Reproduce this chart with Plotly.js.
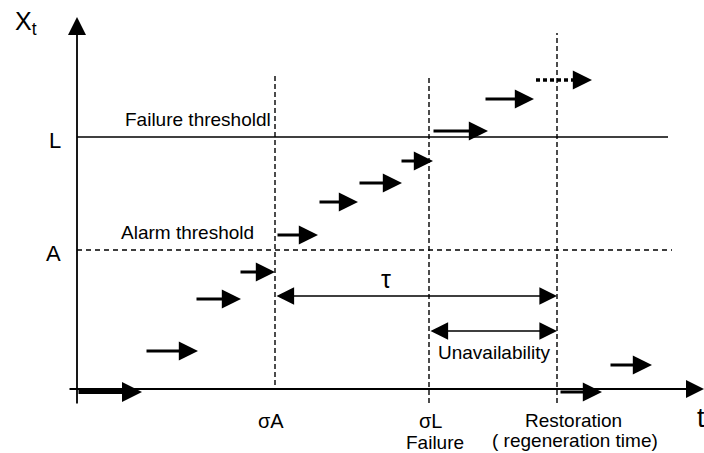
<!DOCTYPE html>
<html><head><meta charset="utf-8">
<script src="https://cdn.plot.ly/plotly-3.0.1.min.js"></script>
<style>html,body{margin:0;padding:0;background:#fff}</style>
</head><body><div id="chart" style="width:704px;height:453px"></div>
<script>
// ---- data (origin at the axes intersection) ----
const eventNames = ['σA', 'σL', 'Restoration'];
const eventTimes = [198, 352, 480];
const eventTop = [314, 312, 356];
const eventBottom = [4, -14, -14];
const thresholdNames = ['L', 'A'];
const thresholdLevels = [252, 139];
const thresholdEnds = [591, 595];
// degradation increments before restoration
const stepStart = [0, 68, 118, 162, 199, 241, 281, 323, 355, 407];
const stepEnd   = [65, 121, 164, 198, 241, 281, 325, 356, 411, 457];
const stepLevel = [-3, 38, 90, 117, 154, 187, 206, 228, 258, 290];
// hypothetical increment (dashed)
const dashStart = [459];
const dashEnd = [515];
const dashLevel = [309];
// increments after restoration
const afterStart = [482, 532];
const afterEnd = [525, 575];
const afterLevel = [-3, 24];
// durations
const tauLevel = 93;
const unavailLevel = 58;
const axisXEnd = 627, axisYEnd = 372, axisXStart = -9, axisYStart = -16;

const FONT = 'Liberation Sans, Arial, sans-serif';
const traces = [];
const annotations = [];

// threshold lines
traces.push({x: [0, thresholdEnds[0]], y: [thresholdLevels[0], thresholdLevels[0]], mode: 'lines',
  line: {color: '#000', width: 1.5}, hoverinfo: 'skip'});
traces.push({x: [0, thresholdEnds[1]], y: [thresholdLevels[1], thresholdLevels[1]], mode: 'lines',
  line: {color: '#000', width: 1.3, dash: '5px,4px'}, hoverinfo: 'skip'});
// vertical event lines
for (let i = 0; i < eventTimes.length; i++) {
  traces.push({x: [eventTimes[i], eventTimes[i]], y: [eventBottom[i], eventTop[i]], mode: 'lines',
    line: {color: '#000', width: 1.4, dash: '5px,3px'}, hoverinfo: 'skip'});
}
// dashed shaft
for (let i = 0; i < dashStart.length; i++) {
  traces.push({x: [dashStart[i], dashEnd[i] - 16], y: [dashLevel[i], dashLevel[i]], mode: 'lines',
    line: {color: '#000', width: 3.5, dash: '4px,3px'}, hoverinfo: 'skip'});
}

function arrow(x0, y0, x1, y1, w, size, both) {
  annotations.push({x: x1, y: y1, ax: x0, ay: y0, xref: 'x', yref: 'y', axref: 'x', ayref: 'y',
    text: '', showarrow: true, arrowhead: 2, arrowsize: size, arrowwidth: w, arrowcolor: '#000',
    arrowside: both ? 'end+start' : 'end', startarrowhead: 2, startarrowsize: size, standoff: 0, startstandoff: 0});
}
// axes
arrow(0, axisYStart, 0, axisYEnd, 1.8, 2.0);
arrow(axisXStart, 0, axisXEnd, 0, 1.8, 2.0);
// steps
for (let i = 0; i < stepStart.length; i++) {
  arrow(stepStart[i], stepLevel[i], stepEnd[i], stepLevel[i], i === 0 ? 4 : 3.2, i === 0 ? 1.0 : 1.2);
}
for (let i = 0; i < dashStart.length; i++) {
  arrow(dashEnd[i] - 18, dashLevel[i], dashEnd[i], dashLevel[i], 3.2, 1.2);
}
for (let i = 0; i < afterStart.length; i++) {
  arrow(afterStart[i], afterLevel[i], afterEnd[i], afterLevel[i], 3.2, 1.2);
}
// durations
arrow(eventTimes[0], tauLevel, eventTimes[2], tauLevel, 1.6, 2.2, true);
arrow(eventTimes[1], unavailLevel, eventTimes[2], unavailLevel, 1.6, 2.2, true);

function label(text, x, y, size, xanchor) {
  annotations.push({x: x, y: y, xref: 'x', yref: 'y', text: text, showarrow: false,
    xanchor: xanchor || 'center', yanchor: 'middle', font: {family: FONT, size: size, color: '#000'}});
}
label('X<sub>t</sub>', -51, 366, 25);
label(thresholdNames[0], -22, 249, 22);
label(thresholdNames[1], -24, 136, 22);
label('Failure thresholdl', 196, 270, 19, 'right');
label('Alarm threshold', 179, 157, 19, 'right');
label('τ', 309, 110, 25);
label('Unavailability', 417, 37, 19);
label(eventNames[0], 194, -32, 20);
label(eventNames[1], 353, -32, 20);
label('Failure', 358, -53, 19);
label(eventNames[2], 496, -31, 19);
label('( regeneration time)', 498, -51, 19);
label('t', 624, -29, 27);

const layout = {
  width: 704, height: 453, margin: {l: 0, r: 0, t: 0, b: 0},
  paper_bgcolor: '#fff', plot_bgcolor: '#fff', showlegend: false,
  xaxis: {range: [-77, 627], visible: false, fixedrange: true},
  yaxis: {range: [-64, 389], visible: false, fixedrange: true},
  annotations: annotations
};
Plotly.newPlot('chart', traces, layout, {staticPlot: true, displayModeBar: false});
</script></body></html>
